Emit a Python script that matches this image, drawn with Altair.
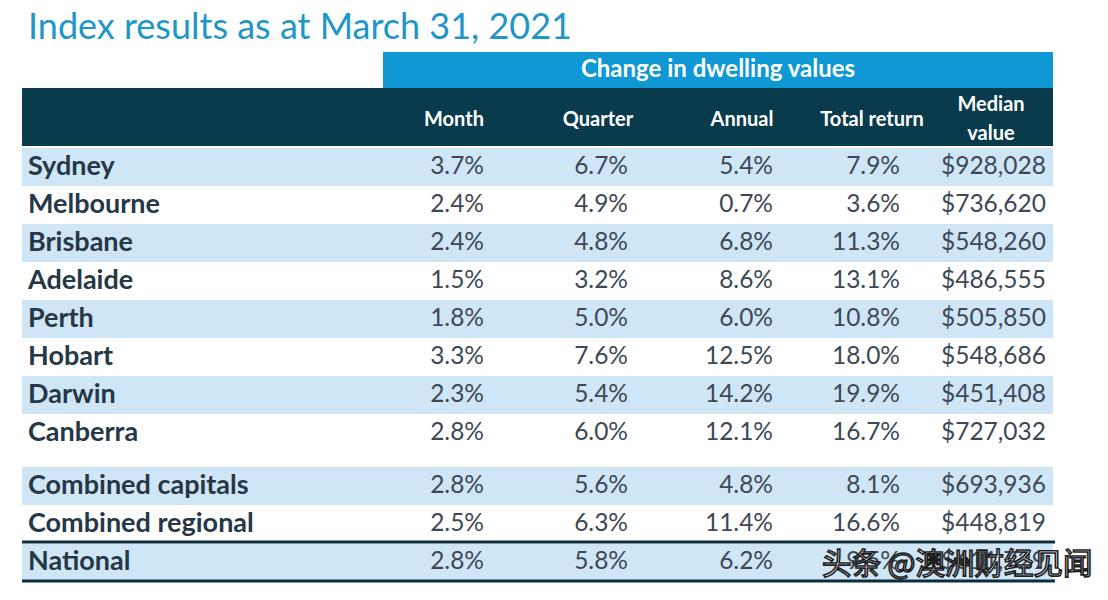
import altair as alt
import pandas as pd

# ---------------- data ----------------
title_text = "Index results as at March 31, 2021"
group_title = "Change in dwelling values"
col_headers = ["Month", "Quarter", "Annual", "Total return", ["Median", "value"]]
regions = ["Sydney", "Melbourne", "Brisbane", "Adelaide", "Perth", "Hobart",
           "Darwin", "Canberra", "Combined capitals", "Combined regional", "National"]
month = [3.7, 2.4, 2.4, 1.5, 1.8, 3.3, 2.3, 2.8, 2.8, 2.5, 2.8]
quarter = [6.7, 4.9, 4.8, 3.2, 5.0, 7.6, 5.4, 6.0, 5.6, 6.3, 5.8]
annual = [5.4, 0.7, 6.8, 8.6, 6.0, 12.5, 14.2, 12.1, 4.8, 11.4, 6.2]
total_return = [7.9, 3.6, 11.3, 13.1, 10.8, 18.0, 19.9, 16.7, 8.1, 16.6, 9.5]
median_value = [928028, 736620, 548260, 486555, 505850, 548686, 451408, 727032,
                693936, 448819, 611729]
row_group = [0, 0, 0, 0, 0, 0, 0, 0, 1, 1, 2]
watermark = "头条 @澳洲财经见闻"

# ---------------- layout ----------------
W, H = 1092, 584
FONT = "Lato"
X0, X1 = 14, 1045            # table left / right
ROW_H = 38
ROW0 = 140                   # top of first data row
GAPS = [0, 15, 16]
col_right = [476, 620, 765, 892, 1038]
col_center = [446, 590, 734, 864, 983]
label_x = 20

xs = alt.Scale(domain=[0, W])
ys = alt.Scale(domain=[0, H], reverse=True)

def X(f="x"):
    return alt.X(f"{f}:Q", scale=xs, axis=None)

def Y(f="y"):
    return alt.Y(f"{f}:Q", scale=ys, axis=None)

tops = [ROW0 + ROW_H * i + GAPS[g] for i, g in enumerate(row_group)]

rows = pd.DataFrame({
    "region": regions,
    "month": month, "quarter": quarter, "annual": annual,
    "total": total_return, "median": median_value,
    "top": tops,
})
rows["bottom"] = rows["top"] + ROW_H
rows.loc[rows.index[-1], "bottom"] = rows["top"].iloc[-1] + 37
rows["yc"] = rows["top"] + ROW_H / 2
rows.loc[rows.index[-1], "yc"] = rows["top"].iloc[-1] + 18
rows["band"] = [i % 2 == 0 for i in range(len(regions))]
rows["x0"] = X0
rows["x1"] = X1

base = alt.Chart(rows)

bands = base.transform_filter("datum.band").mark_rect(color="#cfe6f6").encode(
    x=X("x0"), x2="x1", y=Y("top"), y2="bottom")

labels = base.mark_text(align="left", baseline="middle", font=FONT, fontSize=27,
                        fontWeight="bold", color="#263746").encode(
    x=alt.value(label_x), y=Y("yc"), text="region:N")

VAL_STYLE = dict(align="right", baseline="middle", font=FONT, fontSize=24.5,
                 color="#3d4955")
value_layers = []
for field, xr in zip(["month", "quarter", "annual", "total"], col_right[:4]):
    value_layers.append(
        base.transform_calculate(lbl=f"format(datum.{field}, '.1f') + '%'")
        .mark_text(**VAL_STYLE)
        .encode(x=alt.value(xr), y=Y("yc"), text="lbl:N"))
value_layers.append(
    base.transform_calculate(lbl="format(datum.median, '$,.0f')")
    .mark_text(**VAL_STYLE)
    .encode(x=alt.value(col_right[4]), y=Y("yc"), text="lbl:N"))

# title
title_df = pd.DataFrame({"t": [title_text], "x": [20], "y": [31]})
title = alt.Chart(title_df).mark_text(align="left", baseline="alphabetic", font=FONT,
                                      fontSize=36, color="#1f96c8").encode(
    x=X(), y=Y(), text="t:N")

# banner and header boxes
boxes_df = pd.DataFrame({"x": [375, X0], "x2": [X1, X1], "y": [44, 80], "y2": [80, 138],
                         "c": ["#0f98d3", "#0a3b4d"]})
boxes = alt.Chart(boxes_df).mark_rect().encode(
    x=X(), x2="x2", y=Y(), y2="y2", color=alt.Color("c:N", scale=None))

banner_df = pd.DataFrame({"t": [group_title], "x": [710], "y": [62]})
banner_text = alt.Chart(banner_df).mark_text(align="center", baseline="middle", font=FONT,
                                             fontSize=24, fontWeight="bold",
                                             color="white").encode(
    x=X(), y=Y(), text="t:N")

hdr_rows = []
for h, xc in zip(col_headers, col_center):
    if isinstance(h, list):
        hdr_rows.append({"t": h[0], "x": xc, "y": 97})
        hdr_rows.append({"t": h[1], "x": xc, "y": 126})
    else:
        hdr_rows.append({"t": h, "x": xc, "y": 112})
hdr = alt.Chart(pd.DataFrame(hdr_rows)).mark_text(align="center", baseline="middle",
                                                 font=FONT, fontSize=20, fontWeight="bold",
                                                 color="white").encode(
    x=X(), y=Y(), text="t:N")

# rules around National
nat_top = tops[-1]
rules_df = pd.DataFrame({"x": [X0, X0], "x2": [X1 + 2, X1 + 2],
                         "y": [nat_top - 2, nat_top + 37]})
rules = alt.Chart(rules_df).mark_rule(color="#0c2d3d", strokeWidth=3).encode(
    x=X(), x2="x2", y=Y())

# watermark (white glyphs with dark outline)
wm_df = pd.DataFrame({"t": [watermark], "x": [814], "y": [557]})
wm = alt.Chart(wm_df).mark_text(align="left", baseline="middle", font="Noto Sans CJK SC",
                                fontSize=29.5, fill="white", stroke="#1e1e1e",
                                strokeWidth=1.6).encode(
    x=X(), y=Y(), text="t:N")

chart = alt.layer(bands, boxes, title, banner_text, hdr, labels, *value_layers,
                  rules, wm).properties(
    width=W, height=H, autosize=alt.AutoSizeParams(type="none"), padding=0,
    background="white"
).configure_view(stroke=None)

chart.save("out.html", embed_options={"renderer": "svg", "actions": False})
